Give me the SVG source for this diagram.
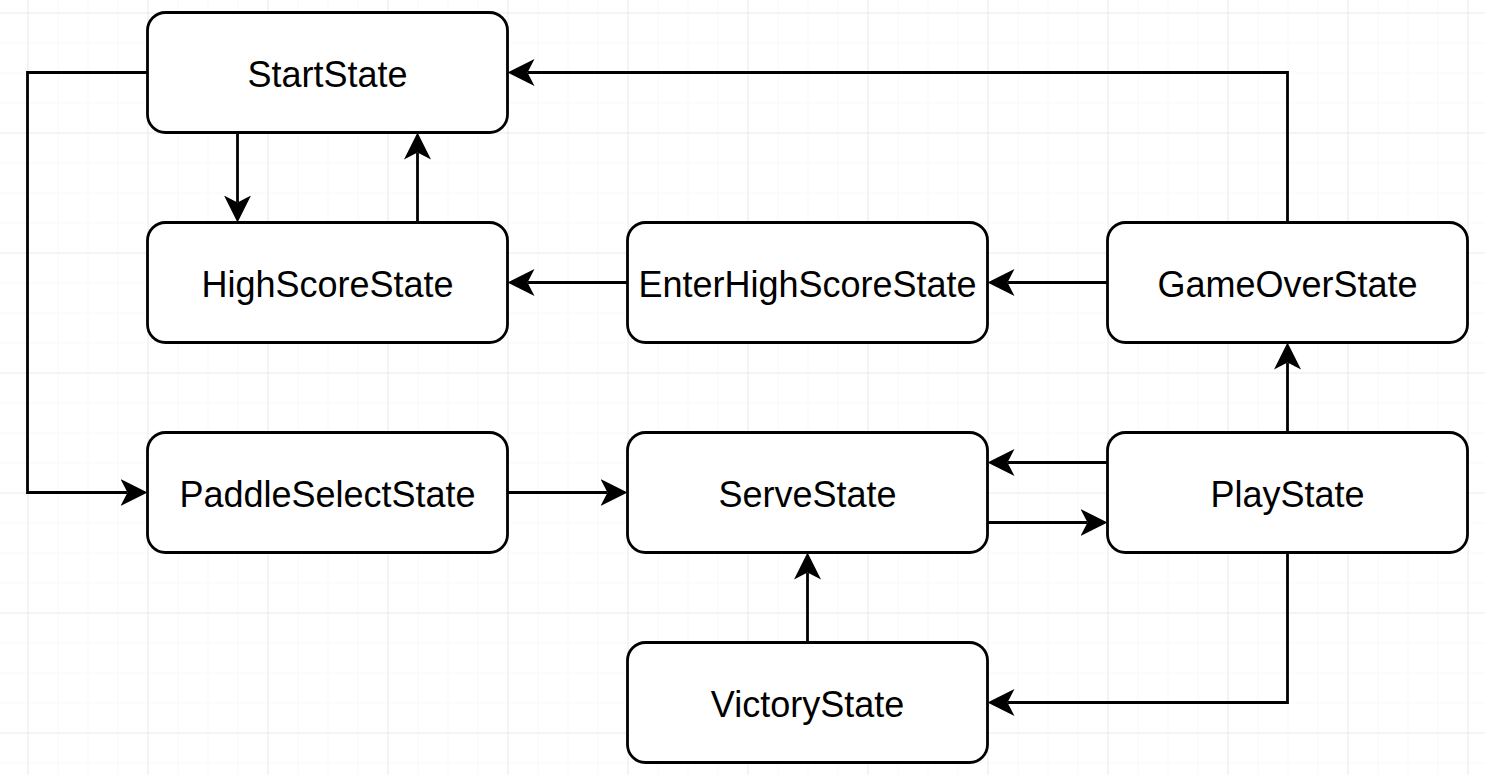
<svg xmlns="http://www.w3.org/2000/svg" width="1485" height="775" viewBox="0 0 1485 775">
<style>
.node rect{fill:#ffffff;stroke:#000000;stroke-width:2.8}
.node text{font-family:"Liberation Sans",Arial,sans-serif;font-size:36px;fill:#000000;text-anchor:middle}
.edge{fill:none;stroke:#000000;stroke-width:2.8;marker-end:url(#arr)}
</style>
<defs>
<pattern id="minor" x="27.5" y="12.5" width="30" height="30" patternUnits="userSpaceOnUse">
<path d="M0,0 H30 M0,0 V30" fill="none" stroke="#f3f3f3" stroke-width="1"/>
</pattern>
<pattern id="major" x="27.5" y="12.5" width="120" height="120" patternUnits="userSpaceOnUse">
<path d="M0,0 H120 M0,0 V120" fill="none" stroke="#dedede" stroke-width="1"/>
</pattern>
<marker id="arr" viewBox="0 -14 28 28" refX="7" refY="0" markerWidth="28" markerHeight="28" markerUnits="userSpaceOnUse" orient="auto">
<path d="M27,0 L0,-13.5 L7,0 L0,13.5 Z" fill="#000000"/>
</marker>
</defs>
<rect width="1485" height="775" fill="#ffffff"/>
<rect width="1485" height="775" fill="url(#minor)"/>
<rect width="1485" height="775" fill="url(#major)"/>
<g id="connectors">
<path class="edge" d="M147.5,72.5 H27.5 V492.5 H127.5"/>
<path class="edge" d="M237.5,132.5 V202.5"/>
<path class="edge" d="M417.5,222.5 V152.5"/>
<path class="edge" d="M1287.5,222.5 V72.5 H527.5"/>
<path class="edge" d="M627.5,282.5 H527.5"/>
<path class="edge" d="M1107.5,282.5 H1007.5"/>
<path class="edge" d="M1287.5,432.5 V362.5"/>
<path class="edge" d="M507.5,492.5 H607.5"/>
<path class="edge" d="M1107.5,462.5 H1007.5"/>
<path class="edge" d="M987.5,522.5 H1087.5"/>
<path class="edge" d="M807.5,642.5 V572.5"/>
<path class="edge" d="M1287.5,552.5 V702.5 H1007.5"/>
</g>
<g id="StartState" class="node"><rect x="147.5" y="12.5" width="360" height="120" rx="18"/><text x="327.5" y="87">StartState</text></g>
<g id="HighScoreState" class="node"><rect x="147.5" y="222.5" width="360" height="120" rx="18"/><text x="327.5" y="297">HighScoreState</text></g>
<g id="EnterHighScoreState" class="node"><rect x="627.5" y="222.5" width="360" height="120" rx="18"/><text x="807.5" y="297">EnterHighScoreState</text></g>
<g id="GameOverState" class="node"><rect x="1107.5" y="222.5" width="360" height="120" rx="18"/><text x="1287.5" y="297">GameOverState</text></g>
<g id="PaddleSelectState" class="node"><rect x="147.5" y="432.5" width="360" height="120" rx="18"/><text x="327.5" y="507">PaddleSelectState</text></g>
<g id="ServeState" class="node"><rect x="627.5" y="432.5" width="360" height="120" rx="18"/><text x="807.5" y="507">ServeState</text></g>
<g id="PlayState" class="node"><rect x="1107.5" y="432.5" width="360" height="120" rx="18"/><text x="1287.5" y="507">PlayState</text></g>
<g id="VictoryState" class="node"><rect x="627.5" y="642.5" width="360" height="120" rx="18"/><text x="807.5" y="717">VictoryState</text></g>
</svg>
